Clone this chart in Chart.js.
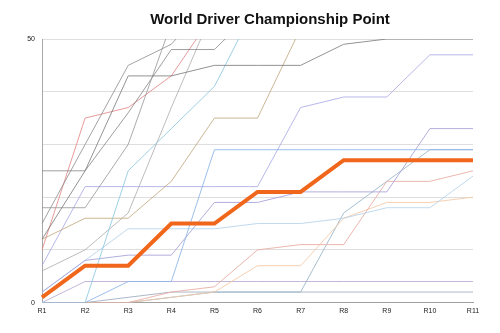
<!DOCTYPE html>
<html>
<head>
<meta charset="utf-8">
<script src="https://cdn.jsdelivr.net/npm/chart.js@4/dist/chart.umd.min.js"></script>
<style>
  html, body { margin: 0; padding: 0; background: #fff; }
  #wrap { width: 500px; height: 333px; position: relative; }
</style>
</head>
<body>
<div id="wrap"><canvas id="c" width="500" height="333"></canvas></div>
<script>
// Rounds of the season
const rounds = ['R1','R2','R3','R4','R5','R6','R7','R8','R9','R10','R11'];

// Highlighted driver
const highlight = [1, 7, 7, 15, 15, 21, 21, 27, 27, 27, 27];

// Other drivers (cumulative points per round)
const driverA = [15, 30, 45, 49, 58, 66, 74, 82, 88, 96, 102];
const driverB = [12, 25, 43, 43, 45, 45, 45, 49, 50, 50, 50];
const driverC = [18, 18, 30, 53, 61, 69, 77, 85, 93, 99, 107];
const driverD = [25, 25, 36, 48, 48, 56, 64, 70, 76, 82, 88];
const driverE = [10, 35, 37, 43, 55, 61, 69, 75, 83, 89, 95];
const driverF = [0, 0, 25, 33, 41, 57, 63, 71, 77, 85, 91];
const driverG = [12, 16, 16, 23, 35, 35, 52, 60, 66, 72, 80];
const driverH = [0, 0, 4, 4, 29, 29, 29, 29, 29, 29, 29];
const driverI = [7, 22, 22, 22, 22, 22, 37, 39, 39, 47, 47];
const driverJ = [2, 8, 9, 9, 19, 19, 21, 21, 21, 33, 33];
const driverK = [2, 8, 14, 14, 14, 15, 15, 16, 18, 18, 24];
const driverL = [0, 0, 0, 2, 3, 10, 11, 11, 23, 23, 25];
const driverM = [0, 0, 0, 1, 2, 7, 7, 16, 19, 19, 20];
const driverN = [0, 0, 0, 1, 2, 2, 2, 17, 23, 29, 29];
const driverO = [0, 4, 4, 4, 4, 4, 4, 4, 4, 4, 4];
const driverP = [0, 0, 1, 2, 2, 2, 2, 2, 2, 2, 2];
const driverQ = [6, 10, 17, 37, 56, 64, 72, 80, 86, 92, 98];

// Y tick labels that are printed
const yLabels = [0, 50];

const others = [
  [driverA, 'rgba(140,140,140,0.8)'],
  [driverB, 'rgba(120,120,120,0.8)'],
  [driverC, 'rgba(150,150,150,0.8)'],
  [driverD, 'rgba(130,125,125,0.75)'],
  [driverE, 'rgba(225,130,130,0.8)'],
  [driverF, 'rgba(140,200,225,0.85)'],
  [driverG, 'rgba(195,170,130,0.85)'],
  [driverH, 'rgba(140,180,230,0.85)'],
  [driverI, 'rgba(170,170,230,0.85)'],
  [driverJ, 'rgba(165,160,215,0.85)'],
  [driverK, 'rgba(180,210,235,0.85)'],
  [driverL, 'rgba(230,170,160,0.85)'],
  [driverM, 'rgba(245,200,165,0.85)'],
  [driverN, 'rgba(150,180,200,0.85)'],
  [driverO, 'rgba(185,170,210,0.85)'],
  [driverP, 'rgba(160,170,190,0.85)'],
  [driverQ, 'rgba(165,165,165,0.75)']
];

const datasets = [{
  label: 'Driver',
  data: highlight,
  borderColor: '#f0661a',
  borderWidth: 4,
  pointRadius: 0,
  tension: 0,
  borderJoinStyle: 'miter'
}];
others.forEach(([vals, col], i) => {
  datasets.push({
    label: 'D' + (i + 1),
    data: vals,
    borderColor: col,
    borderWidth: 1,
    pointRadius: 0,
    tension: 0
  });
});

const font = "'Liberation Sans', Helvetica, Arial, sans-serif";

// Centre the title over the span from the y-axis labels to the right edge
const titleShift = {
  id: 'titleShift',
  afterLayout(chart) {
    const t = chart.titleBlock;
    if (t) { t.left = 40; t.width = t.right - t.left; }
  }
};

new Chart(document.getElementById('c'), {
  type: 'line',
  data: { labels: rounds, datasets },
  plugins: [titleShift],
  options: {
    responsive: false,
    animation: false,
    layout: { padding: { left: 0, right: 0, top: 0, bottom: 14 } },
    plugins: {
      legend: { display: false },
      tooltip: { enabled: false },
      title: {
        display: true,
        text: 'World Driver Championship Point',
        color: '#111',
        font: { family: font, size: 15, weight: 'bold' },
        padding: { top: 11, bottom: 10 }
      }
    },
    scales: {
      x: {
        grid: { display: false, drawTicks: false },
        border: { color: '#a0a0a0', width: 1 },
        ticks: {
          color: '#222',
          font: { family: font, size: 7 },
          padding: 4,
          maxRotation: 0,
          autoSkip: false
        }
      },
      y: {
        min: 0,
        max: 50,
        afterFit: s => { s.width = 42; },
        grid: { color: '#dedede', lineWidth: 1, drawTicks: false },
        border: { color: '#a8a8a8', width: 1 },
        ticks: {
          stepSize: 10,
          color: '#222',
          font: { family: font, size: 7 },
          padding: 7,
          callback: v => (yLabels.includes(v) ? String(v) : '')
        }
      },
      yRight: {
        position: 'right',
        min: 0,
        max: 50,
        afterFit: s => { s.width = 27; },
        grid: { display: false, drawTicks: false },
        border: { display: false },
        ticks: { display: false }
      }
    }
  }
});
</script>
</body>
</html>
